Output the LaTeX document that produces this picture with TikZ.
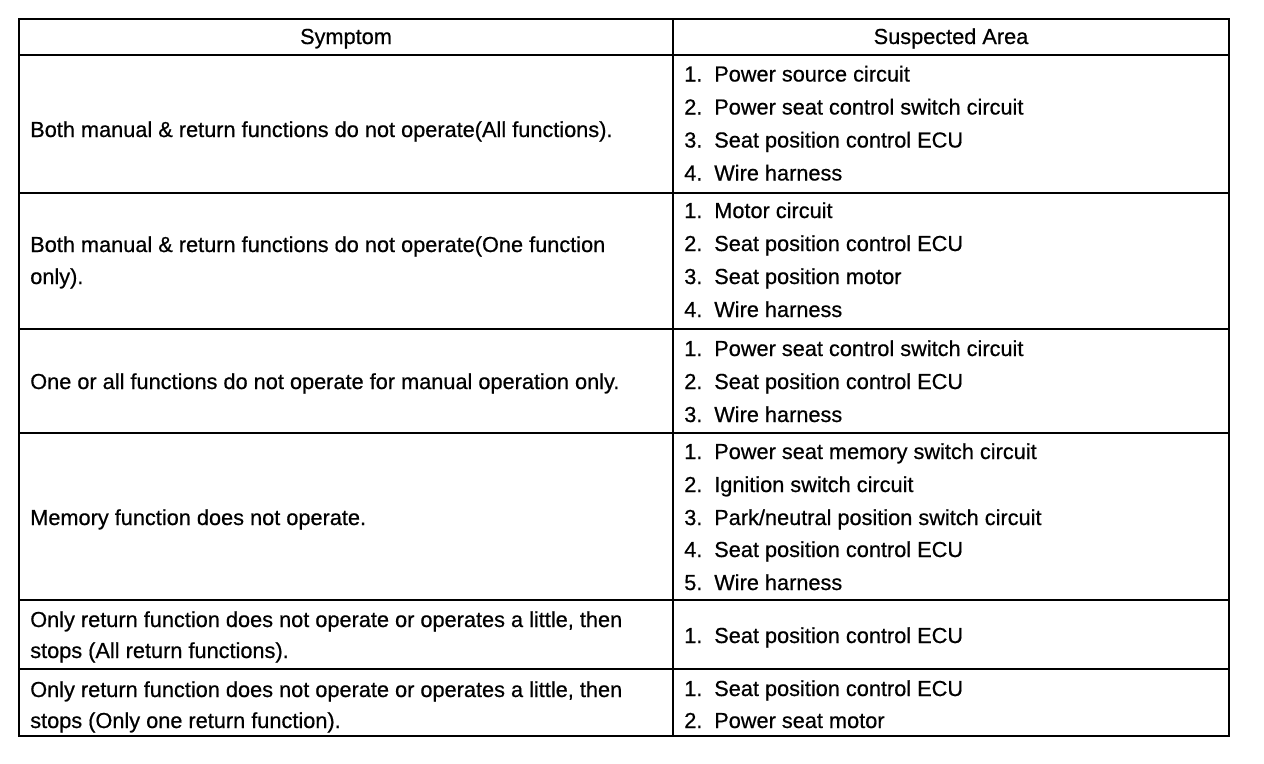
\documentclass[tikz,border=0pt]{standalone}
\usepackage{fontspec}
\setmainfont[FakeBold=0.6]{Liberation Sans}
\begin{document}
\begin{tikzpicture}[x=0.75pt,y=-0.75pt,
  txt/.style={anchor=base west,inner sep=0pt,font=\fontsize{16.3}{20}\selectfont},
  hdr/.style={anchor=base,inner sep=0pt,font=\fontsize{16.3}{20}\selectfont},
  rule/.style={line width=1.9pt}]
\useasboundingbox[fill=white] (0,0) rectangle (1264,764);
% grid
\draw[rule] (19,19) rectangle (1229,736);
\draw[rule] (673,19) -- (673,736);
\foreach \y in {55,193,329,433,600,669} \draw[rule] (19,\y) -- (1229,\y);
% header
\node[hdr] (h1) at (346,44) {Symptom};
\node[hdr] (h2) at (951,44) {Suspected Area};
% row 1
\node[txt] (s1) at (30,137) {Both manual \& return functions do not operate(All functions).};
\node[txt] (n11) at (684,81.5) {1.}; \node[txt] (a11) at (714,81.5) {Power source circuit};
\node[txt] (n12) at (684,114.5) {2.}; \node[txt] (a12) at (714,114.5) {Power seat control switch circuit};
\node[txt] (n13) at (684,147.5) {3.}; \node[txt] (a13) at (714,147.5) {Seat position control ECU};
\node[txt] (n14) at (684,180.5) {4.}; \node[txt] (a14) at (714,180.5) {Wire harness};
% row 2
\node[txt] (s2a) at (30,252) {Both manual \& return functions do not operate(One function};
\node[txt] (s2b) at (30,284) {only).};
\node[txt] (n21) at (684,218) {1.}; \node[txt] (a21) at (714,218) {Motor circuit};
\node[txt] (n22) at (684,251) {2.}; \node[txt] (a22) at (714,251) {Seat position control ECU};
\node[txt] (n23) at (684,284) {3.}; \node[txt] (a23) at (714,284) {Seat position motor};
\node[txt] (n24) at (684,317) {4.}; \node[txt] (a24) at (714,317) {Wire harness};
% row 3
\node[txt] (s3) at (30,389) {One or all functions do not operate for manual operation only.};
\node[txt] (n31) at (684,356) {1.}; \node[txt] (a31) at (714,356) {Power seat control switch circuit};
\node[txt] (n32) at (684,389) {2.}; \node[txt] (a32) at (714,389) {Seat position control ECU};
\node[txt] (n33) at (684,422) {3.}; \node[txt] (a33) at (714,422) {Wire harness};
% row 4
\node[txt] (s4) at (30,525) {Memory function does not operate.};
\node[txt] (n41) at (684,459) {1.}; \node[txt] (a41) at (714,459) {Power seat memory switch circuit};
\node[txt] (n42) at (684,492) {2.}; \node[txt] (a42) at (714,492) {Ignition switch circuit};
\node[txt] (n43) at (684,525) {3.}; \node[txt] (a43) at (714,525) {Park/neutral position switch circuit};
\node[txt] (n44) at (684,557) {4.}; \node[txt] (a44) at (714,557) {Seat position control ECU};
\node[txt] (n45) at (684,590) {5.}; \node[txt] (a45) at (714,590) {Wire harness};
% row 5
\node[txt] (s5a) at (30,627) {Only return function does not operate or operates a little, then};
\node[txt] (s5b) at (30,658) {stops (All return functions).};
\node[txt] (n51) at (684,643) {1.}; \node[txt] (a51) at (714,643) {Seat position control ECU};
% row 6
\node[txt] (s6a) at (30,697) {Only return function does not operate or operates a little, then};
\node[txt] (s6b) at (30,728) {stops (Only one return function).};
\node[txt] (n61) at (684,696) {1.}; \node[txt] (a61) at (714,696) {Seat position control ECU};
\node[txt] (n62) at (684,728) {2.}; \node[txt] (a62) at (714,728) {Power seat motor};
\end{tikzpicture}
\end{document}
